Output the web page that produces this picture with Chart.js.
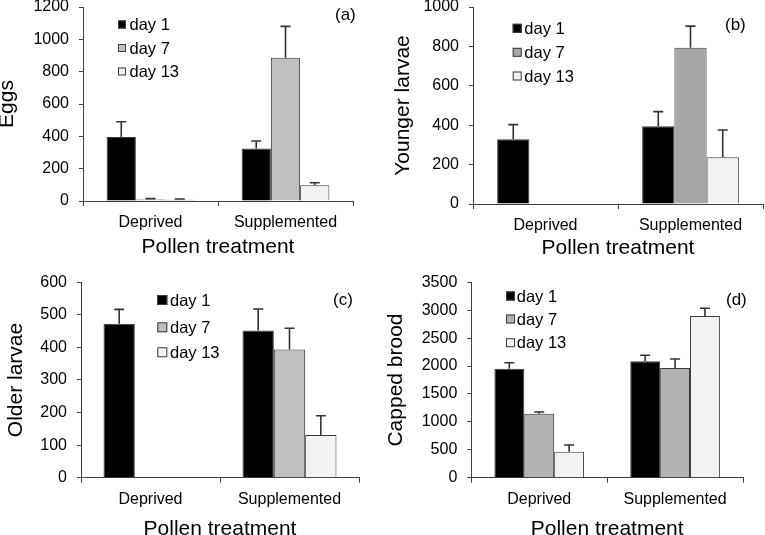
<!DOCTYPE html>
<html>
<head>
<meta charset="utf-8">
<script src="https://cdn.jsdelivr.net/npm/chart.js@4.4.1/dist/chart.umd.min.js"></script>
<style>
  html, body { margin: 0; padding: 0; background: #fff; }
  #wrap { position: relative; width: 765px; height: 535px; overflow: hidden; }
  canvas { position: absolute; }
</style>
</head>
<body>
<div id="wrap">
  <canvas id="cA" width="380" height="265" style="left:0;top:0"></canvas>
  <canvas id="cB" width="385" height="265" style="left:380px;top:0"></canvas>
  <canvas id="cC" width="380" height="270" style="left:0;top:265px"></canvas>
  <canvas id="cD" width="385" height="270" style="left:380px;top:265px"></canvas>
</div>
<script>
// data
const categories = ["Deprived", "Supplemented"];
const seriesLabels = ["day 1", "day 7", "day 13"];
const xTitle = "Pollen treatment";

const eggsDay1 = [396, 325];
const eggsDay7 = [10, 886];
const eggsDay13 = [7, 97];
const eggsSeDay1 = [94, 46];
const eggsSeDay7 = [5, 194];
const eggsSeDay13 = [5, 16];

const youngDay1 = [329, 395];
const youngDay7 = [0, 793];
const youngDay13 = [0, 237];
const youngSeDay1 = [74, 74];
const youngSeDay7 = [0, 110];
const youngSeDay13 = [0, 139];

const olderDay1 = [473, 452];
const olderDay7 = [0, 394];
const olderDay13 = [0, 131];
const olderSeDay1 = [44, 66];
const olderSeDay7 = [0, 65];
const olderSeDay13 = [0, 59];

const broodDay1 = [1952, 2085];
const broodDay7 = [1146, 1965];
const broodDay13 = [466, 2896];
const broodSeDay1 = [108, 107];
const broodSeDay7 = [31, 160];
const broodSeDay13 = [120, 138];

const FONT = 'Arial, "Liberation Sans", sans-serif';
const AXIS = "#404040";
const EDGE = "#3a3a3a";

// upper error bars
const errorBars = {
  id: "errorBars",
  afterDatasetsDraw(chart) {
    const ctx = chart.ctx;
    const y = chart.scales.y;
    ctx.save();
    ctx.strokeStyle = "#333";
    ctx.lineWidth = 1.6;
    chart.data.datasets.forEach((ds, i) => {
      const meta = chart.getDatasetMeta(i);
      meta.data.forEach((bar, j) => {
        const se = ds.se[j];
        if (!se) return;
        const top = y.getPixelForValue(ds.data[j] + se);
        ctx.beginPath();
        ctx.moveTo(bar.x, bar.y);
        ctx.lineTo(bar.x, top);
        ctx.moveTo(bar.x - 5, top);
        ctx.lineTo(bar.x + 5, top);
        ctx.stroke();
      });
    });
    ctx.restore();
  }
};

// legend inside the plot + panel tag
const panelDeco = {
  id: "panelDeco",
  afterDraw(chart, args, o) {
    const ctx = chart.ctx;
    ctx.save();
    ctx.font = "16.5px " + FONT;
    ctx.textBaseline = "middle";
    ctx.textAlign = "left";
    chart.data.datasets.forEach((ds, i) => {
      const cy = o.rows[i];
      ctx.fillStyle = ds.backgroundColor;
      ctx.fillRect(o.boxX, cy - o.box / 2, o.box, o.box);
      ctx.strokeStyle = EDGE;
      ctx.lineWidth = 1;
      ctx.strokeRect(o.boxX + 0.5, cy - o.box / 2 + 0.5, o.box - 1, o.box - 1);
      ctx.fillStyle = "#000";
      ctx.fillText(ds.label, o.textX, cy + 1);
    });
    ctx.font = "17px " + FONT;
    ctx.fillText(o.tag, o.tagX, o.tagY);
    ctx.restore();
  }
};

function makePanel(id, p) {
  const cv = document.getElementById(id);
  const W = cv.width, H = cv.height;
  const colors = ["#000000", p.gray, "#f2f2f2"];
  const datasets = p.values.map((v, i) => ({
    label: seriesLabels[i],
    data: v,
    se: p.se[i],
    backgroundColor: colors[i],
    borderColor: EDGE,
    borderWidth: 1,
    categoryPercentage: p.catPct,
    barPercentage: 1
  }));
  new Chart(cv, {
    type: "bar",
    data: { labels: categories, datasets: datasets },
    options: {
      responsive: false,
      animation: false,
      events: [],
      layout: { padding: { left: 0, top: p.top, right: W - p.right, bottom: 0 } },
      plugins: {
        legend: { display: false },
        tooltip: { enabled: false },
        panelDeco: p.deco
      },
      scales: {
        x: {
          grid: { drawOnChartArea: false, tickLength: 5, color: AXIS },
          border: { color: AXIS, width: 1 },
          ticks: { color: "#000", font: { family: FONT, size: 16 }, padding: 7, maxRotation: 0 },
          title: {
            display: true, text: xTitle, color: "#000",
            font: { family: FONT, size: 21, lineHeight: 1 },
            padding: { top: 0, bottom: p.xTitlePad }
          },
          afterFit: s => { s.height = H - p.bottom; s.paddingLeft = 0; s.paddingRight = 0; }
        },
        y: {
          min: 0, max: p.yMax,
          grid: { drawOnChartArea: false, tickLength: 4, color: AXIS },
          border: { color: AXIS, width: 1 },
          ticks: {
            stepSize: p.yStep, color: "#000", font: { family: FONT, size: 16 }, padding: 10,
            callback: v => String(v)
          },
          title: {
            display: true, text: p.yTitle, color: "#000",
            font: { family: FONT, size: 21, lineHeight: 1 },
            padding: { top: p.yTitlePad, bottom: 0 }
          },
          afterFit: s => { s.width = p.left; s.paddingTop = 0; s.paddingBottom = 0; }
        }
      }
    },
    plugins: [errorBars, panelDeco]
  });
}

makePanel("cA", {
  values: [eggsDay1, eggsDay7, eggsDay13],
  se: [eggsSeDay1, eggsSeDay7, eggsSeDay13],
  yTitle: "Eggs", yMax: 1200, yStep: 200, gray: "#bfbfbf", catPct: 0.65,
  left: 83, right: 353, top: 7, bottom: 201, yTitlePad: -2.8, xTitlePad: 7,
  deco: { boxX: 118, box: 8, textX: 129.5, rows: [24.5, 48, 71.5], tag: "(a)", tagX: 335, tagY: 15 }
});
makePanel("cB", {
  values: [youngDay1, youngDay7, youngDay13],
  se: [youngSeDay1, youngSeDay7, youngSeDay13],
  yTitle: "Younger larvae", yMax: 1000, yStep: 200, gray: "#a6a6a6", catPct: 0.667,
  left: 93, right: 383, top: 7, bottom: 204, yTitlePad: 12.5, xTitlePad: 6.5,
  deco: { boxX: 132.7, box: 9, textX: 144.3, rows: [28.3, 52.3, 76], tag: "(b)", tagX: 345, tagY: 25 }
});
makePanel("cC", {
  values: [olderDay1, olderDay7, olderDay13],
  se: [olderSeDay1, olderSeDay7, olderSeDay13],
  yTitle: "Older larvae", yMax: 600, yStep: 100, gray: "#bfbfbf", catPct: 0.676,
  left: 81, right: 359, top: 17.3, bottom: 212.7, yTitlePad: 5.5, xTitlePad: -4.5,
  deco: { boxX: 157.3, box: 10, textX: 170, rows: [35, 62.3, 87.3], tag: "(c)", tagX: 333, tagY: 35.7 }
});
makePanel("cD", {
  values: [broodDay1, broodDay7, broodDay13],
  se: [broodSeDay1, broodSeDay7, broodSeDay13],
  yTitle: "Capped brood", yMax: 3500, yStep: 500, gray: "#b2b2b2", catPct: 0.66,
  left: 91.3, right: 363, top: 17.3, bottom: 212.7, yTitlePad: 5.8, xTitlePad: -4.5,
  deco: { boxX: 126, box: 9, textX: 136.7, rows: [31, 54, 77.7], tag: "(d)", tagX: 346, tagY: 35.5 }
});
</script>
</body>
</html>
